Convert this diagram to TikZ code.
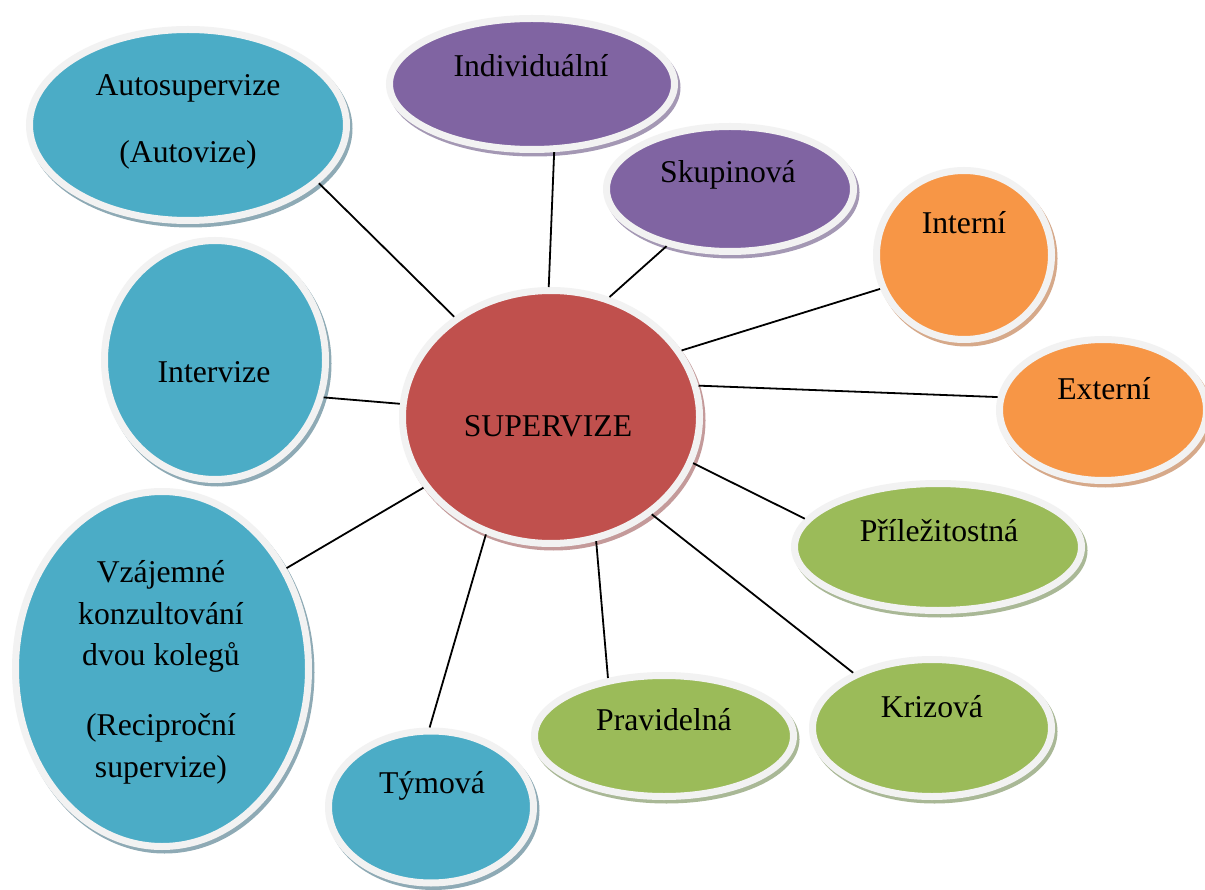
\documentclass[tikz,border=0pt]{standalone}
\usepackage{fontspec}
\setmainfont{Liberation Serif}
\usetikzlibrary{shapes.geometric}
\definecolor{cRed}{HTML}{C0504D}
\definecolor{cBlue}{HTML}{4BACC6}
\definecolor{cPurple}{HTML}{8064A2}
\definecolor{cOrange}{HTML}{F79646}
\definecolor{cGreen}{HTML}{9BBB59}
\definecolor{sRed}{HTML}{C49A9A}
\definecolor{sBlue}{HTML}{8EAAB5}
\definecolor{sPurple}{HTML}{A498B4}
\definecolor{sOrange}{HTML}{D6A98A}
\definecolor{sGreen}{HTML}{A9B896}
\definecolor{ringgray}{HTML}{F2F2F2}
\tikzset{
  bubble/.style={ellipse, draw=ringgray, line width=7pt, inner sep=0pt},
  lbl/.style={anchor=base, align=center, inner sep=0pt, text=black,
    font=\fontsize{31.7pt}{41.5pt}\selectfont},
  link/.style={draw=black, line width=1.8pt},
}
\newcommand\bubnode[7]{%
  \node[bubble, fill=#6, minimum width={2*#4+7}, minimum height={2*#5+7},
    preaction={draw=#7, fill=#7, transform canvas={shift={(2.5,-3.5)}}}]
    (#1) at (#2,-#3) {};}
\begin{document}
\begin{tikzpicture}[x=1pt,y=1pt]
\useasboundingbox (0,0) rectangle (1205,-890);
\fill[white] (0,0) rectangle (1205,-890);
% bubbles: name, cx, cy, rx, ry, fill, shadow
\bubnode{nAuto}{188}{125}{155}{92}{cBlue}{sBlue}
\bubnode{nInter}{215}{360}{107}{116}{cBlue}{sBlue}
\bubnode{nVzaj}{162}{669}{143}{174}{cBlue}{sBlue}
\bubnode{nTym}{431}{807}{99}{72.5}{cBlue}{sBlue}
\bubnode{nIndiv}{532}{84}{139}{62}{cPurple}{sPurple}
\bubnode{nSkup}{730}{189}{120}{59}{cPurple}{sPurple}
\bubnode{nInterni}{964}{255}{84}{81}{cOrange}{sOrange}
\bubnode{nExterni}{1103}{410}{100}{67}{cOrange}{sOrange}
\bubnode{nPrilez}{938}{547}{140}{60}{cGreen}{sGreen}
\bubnode{nKriz}{932}{728}{116}{65}{cGreen}{sGreen}
\bubnode{nPrav}{664}{736}{126}{57}{cGreen}{sGreen}
\bubnode{nSup}{551}{417}{145}{123}{cRed}{sRed}
% labels (base anchor = baseline of the last line)
\node[lbl] (tSup) at (548,-437) {SUPERVIZE};
\node[lbl] (tAuto) at (188,-163) {Autosupervize\\[25.5pt](Autovize)};
\node[lbl] (tInter) at (214,-383) {Intervize};
\node[lbl] (tVzaj) at (161,-777) {Vzájemné\\konzultování\\dvou kolegů\\[28.5pt](Reciproční\\supervize)};
\node[lbl] (tTym) at (432,-793) {Týmová};
\node[lbl] (tIndiv) at (531,-77) {Individuální};
\node[lbl] (tSkup) at (728,-183) {Skupinová};
\node[lbl] (tInterni) at (964,-234) {Interní};
\node[lbl] (tExterni) at (1104,-400) {Externí};
\node[lbl] (tPrilez) at (939,-541) {Příležitostná};
\node[lbl] (tKriz) at (932,-717) {Krizová};
\node[lbl] (tPrav) at (664,-730) {Pravidelná};
% connectors
\draw[link] (nSup.134) -- (nAuto.336);
\draw[link] (nSup.91) -- (nIndiv.288);
\draw[link] (nSup.64) -- (nSkup.222);
\draw[link] (nSup.27) -- (nInterni.202);
\draw[link] (nSup.12) -- (nExterni.173);
\draw[link] (nSup.342) -- (nPrilez.168);
\draw[link] (nSup.316) -- (nKriz.145);
\draw[link] (nSup.290) -- (nPrav.134);
\draw[link] (nSup.241) -- (nTym.91);
\draw[link] (nSup.209) -- (nVzaj.39);
\draw[link] (nSup.175) -- (nInter.341);
\end{tikzpicture}
\end{document}
